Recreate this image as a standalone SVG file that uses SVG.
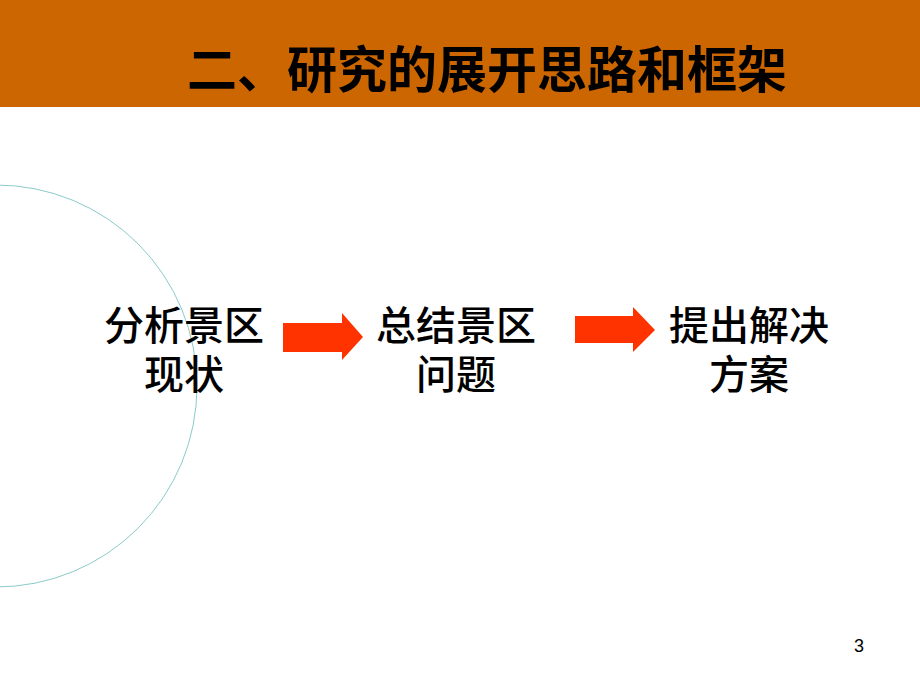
<svg xmlns="http://www.w3.org/2000/svg" width="920" height="690" viewBox="0 0 920 690">
<style>
.t{font-family:"Noto Sans CJK SC","Noto Sans CJK JP",sans-serif;font-size:40px;fill:#000;text-anchor:middle;font-weight:500}
.arr{fill:#FF3300}
</style>
<rect x="0" y="0" width="920" height="690" fill="#fff"/>
<g id="banner">
<rect x="0" y="0" width="920" height="107" fill="#CC6600"/>
<text x="487" y="88" style="font-family:'Noto Sans CJK SC','Noto Sans CJK JP',sans-serif;font-size:50px;font-weight:bold;text-anchor:middle" fill="#000">二、研究的展开思路和框架</text>
</g>
<circle cx="-4" cy="386" r="201" fill="none" stroke="#8CCACA" stroke-width="1"/>
<g id="node1"><text class="t" x="184" y="340">分析景区<tspan x="184" dy="49">现状</tspan></text></g>
<g id="node2"><text class="t" x="456" y="340">总结景区<tspan x="456" dy="49">问题</tspan></text></g>
<g id="node3"><text class="t" x="749" y="340">提出解决<tspan x="749" dy="49">方案</tspan></text></g>
<g id="connectors">
<polygon class="arr" points="283,323 342,323 342,313 363,337 342,360 342,352 283,352"/>
<polygon class="arr" points="575,316 633,316 633,307 655,330 633,352 633,343 575,343"/>
</g>
<text x="854" y="652" style="font-family:'Liberation Sans',sans-serif;font-size:18px" fill="#000">3</text>
</svg>
